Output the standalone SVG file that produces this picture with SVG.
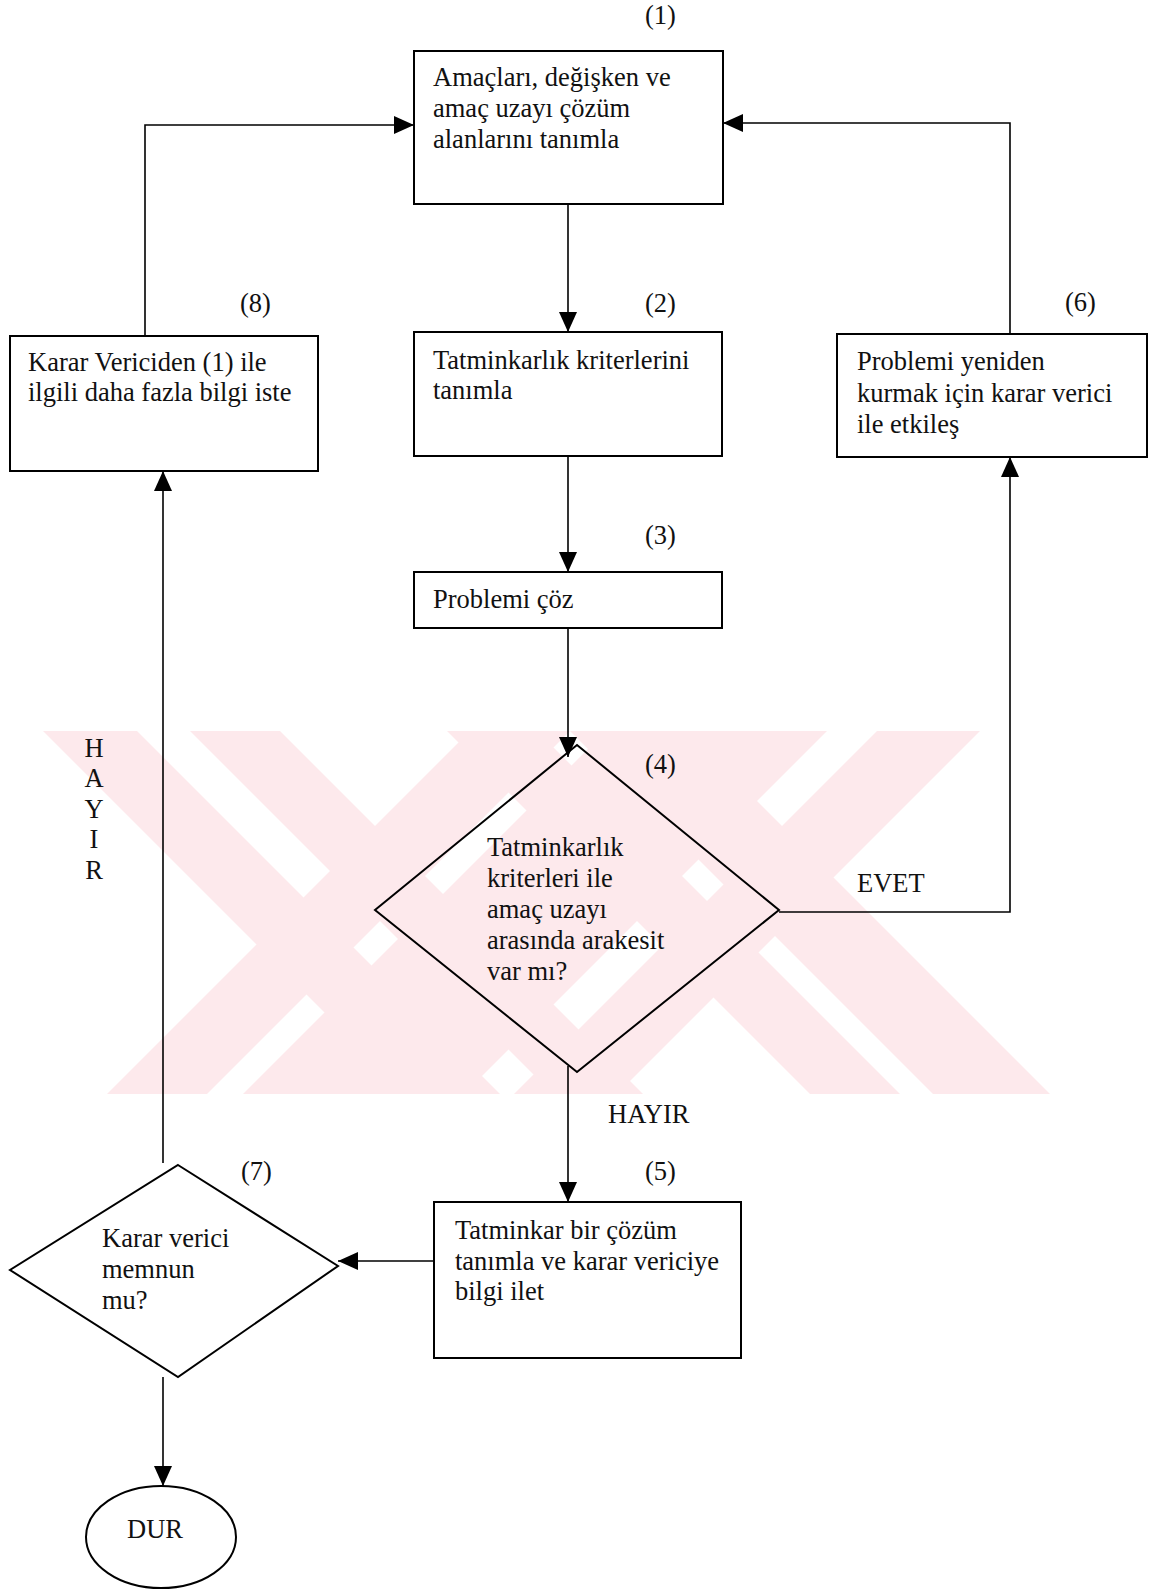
<svg xmlns="http://www.w3.org/2000/svg" width="1151" height="1591" viewBox="0 0 1151 1591">
<defs>
<marker id="arr" markerUnits="userSpaceOnUse" markerWidth="20" markerHeight="18" refX="20" refY="9" orient="auto"><path d="M0,0 L20,9 L0,18 z" fill="#000"/></marker>
<clipPath id="wmclip"><rect x="43" y="731" width="1010" height="363"/></clipPath>
</defs>
<style>
.shape{fill:none;stroke:#000;stroke-width:2}
.conn{fill:none;stroke:#000;stroke-width:1.6}
text{font-family:"Liberation Serif","Times New Roman",serif;font-size:26.5px;fill:#111}
.wm{fill:#fde9ec}
</style>
<rect width="1151" height="1591" fill="#fff"/>
<g id="watermark" clip-path="url(#wmclip)" class="wm">
<polygon points="43,731 137,731 500,1094 406,1094"/>
<polygon points="190,731 280,731 643,1094 553,1094"/>
<polygon points="447,731 537,731 900,1094 810,1094"/>
<polygon points="570,731 687,731 1050,1094 933,1094"/>
<polygon points="107,1094 207,1094 570,731 470,731"/>
<polygon points="243,1094 343,1094 706,731 606,731"/>
<polygon points="337,1094 464,1094 827,731 700,731"/>
<polygon points="514,1094 617,1094 980,731 877,731"/>
</g>
<g id="connectors">
<polyline class="conn" points="568,204 568,332" marker-end="url(#arr)"/>
<polyline class="conn" points="568,456 568,572" marker-end="url(#arr)"/>
<polyline class="conn" points="568,628 568,757" marker-end="url(#arr)"/>
<polyline class="conn" points="568,1066 568,1202" marker-end="url(#arr)"/>
<polyline class="conn" points="779,912 1010,912 1010,457" marker-end="url(#arr)"/>
<polyline class="conn" points="1010,334 1010,123 723,123" marker-end="url(#arr)"/>
<polyline class="conn" points="145,336 145,125 414,125" marker-end="url(#arr)"/>
<polyline class="conn" points="434,1261 338,1261" marker-end="url(#arr)"/>
<polyline class="conn" points="163,1163 163,471" marker-end="url(#arr)"/>
<polyline class="conn" points="163,1377 163,1486" marker-end="url(#arr)"/>
<text x="608" y="1123">HAYIR</text>
<text x="857" y="892">EVET</text>
<text x="94" y="757" text-anchor="middle">H</text>
<text x="94" y="787" text-anchor="middle">A</text>
<text x="94" y="818" text-anchor="middle">Y</text>
<text x="94" y="848" text-anchor="middle">I</text>
<text x="94" y="879" text-anchor="middle">R</text>
</g>
<g id="n1">
<rect class="shape" x="414" y="51" width="309" height="153"/>
<text x="645" y="24">(1)</text>
<text x="433" y="86">Amaçları, değişken ve</text>
<text x="433" y="117">amaç uzayı  çözüm</text>
<text x="433" y="148">alanlarını tanımla</text>
</g>
<g id="n2">
<rect class="shape" x="414" y="332" width="308" height="124"/>
<text x="645" y="312">(2)</text>
<text x="433" y="369">Tatminkarlık kriterlerini</text>
<text x="433" y="399">tanımla</text>
</g>
<g id="n3">
<rect class="shape" x="414" y="572" width="308" height="56"/>
<text x="645" y="544">(3)</text>
<text x="433" y="608">Problemi çöz</text>
</g>
<g id="n4">
<polygon class="shape" points="577,745 779,910 577,1072 375,910"/>
<text x="645" y="773">(4)</text>
<text x="487" y="856">Tatminkarlık</text>
<text x="487" y="887">kriterleri ile</text>
<text x="487" y="918">amaç uzayı</text>
<text x="487" y="949">arasında arakesit</text>
<text x="487" y="980">var  mı?</text>
</g>
<g id="n5">
<rect class="shape" x="434" y="1202" width="307" height="156"/>
<text x="645" y="1180">(5)</text>
<text x="455" y="1239">Tatminkar bir çözüm</text>
<text x="455" y="1270">tanımla ve karar vericiye</text>
<text x="455" y="1300">bilgi ilet</text>
</g>
<g id="n6">
<rect class="shape" x="837" y="334" width="310" height="123"/>
<text x="1065" y="311">(6)</text>
<text x="857" y="370">Problemi yeniden</text>
<text x="857" y="402">kurmak için karar verici</text>
<text x="857" y="433">ile etkileş</text>
</g>
<g id="n7">
<polygon class="shape" points="178,1165 338,1266 178,1377 10,1270"/>
<text x="241" y="1180">(7)</text>
<text x="102" y="1247">Karar verici</text>
<text x="102" y="1278">memnun</text>
<text x="102" y="1309">mu?</text>
</g>
<g id="n8">
<rect class="shape" x="10" y="336" width="308" height="135"/>
<text x="240" y="312">(8)</text>
<text x="28" y="371">Karar Vericiden (1) ile</text>
<text x="28" y="401">ilgili daha fazla bilgi iste</text>
</g>
<g id="dur">
<ellipse class="shape" cx="161" cy="1537" rx="75" ry="51"/>
<text x="127" y="1538">DUR</text>
</g>
</svg>
